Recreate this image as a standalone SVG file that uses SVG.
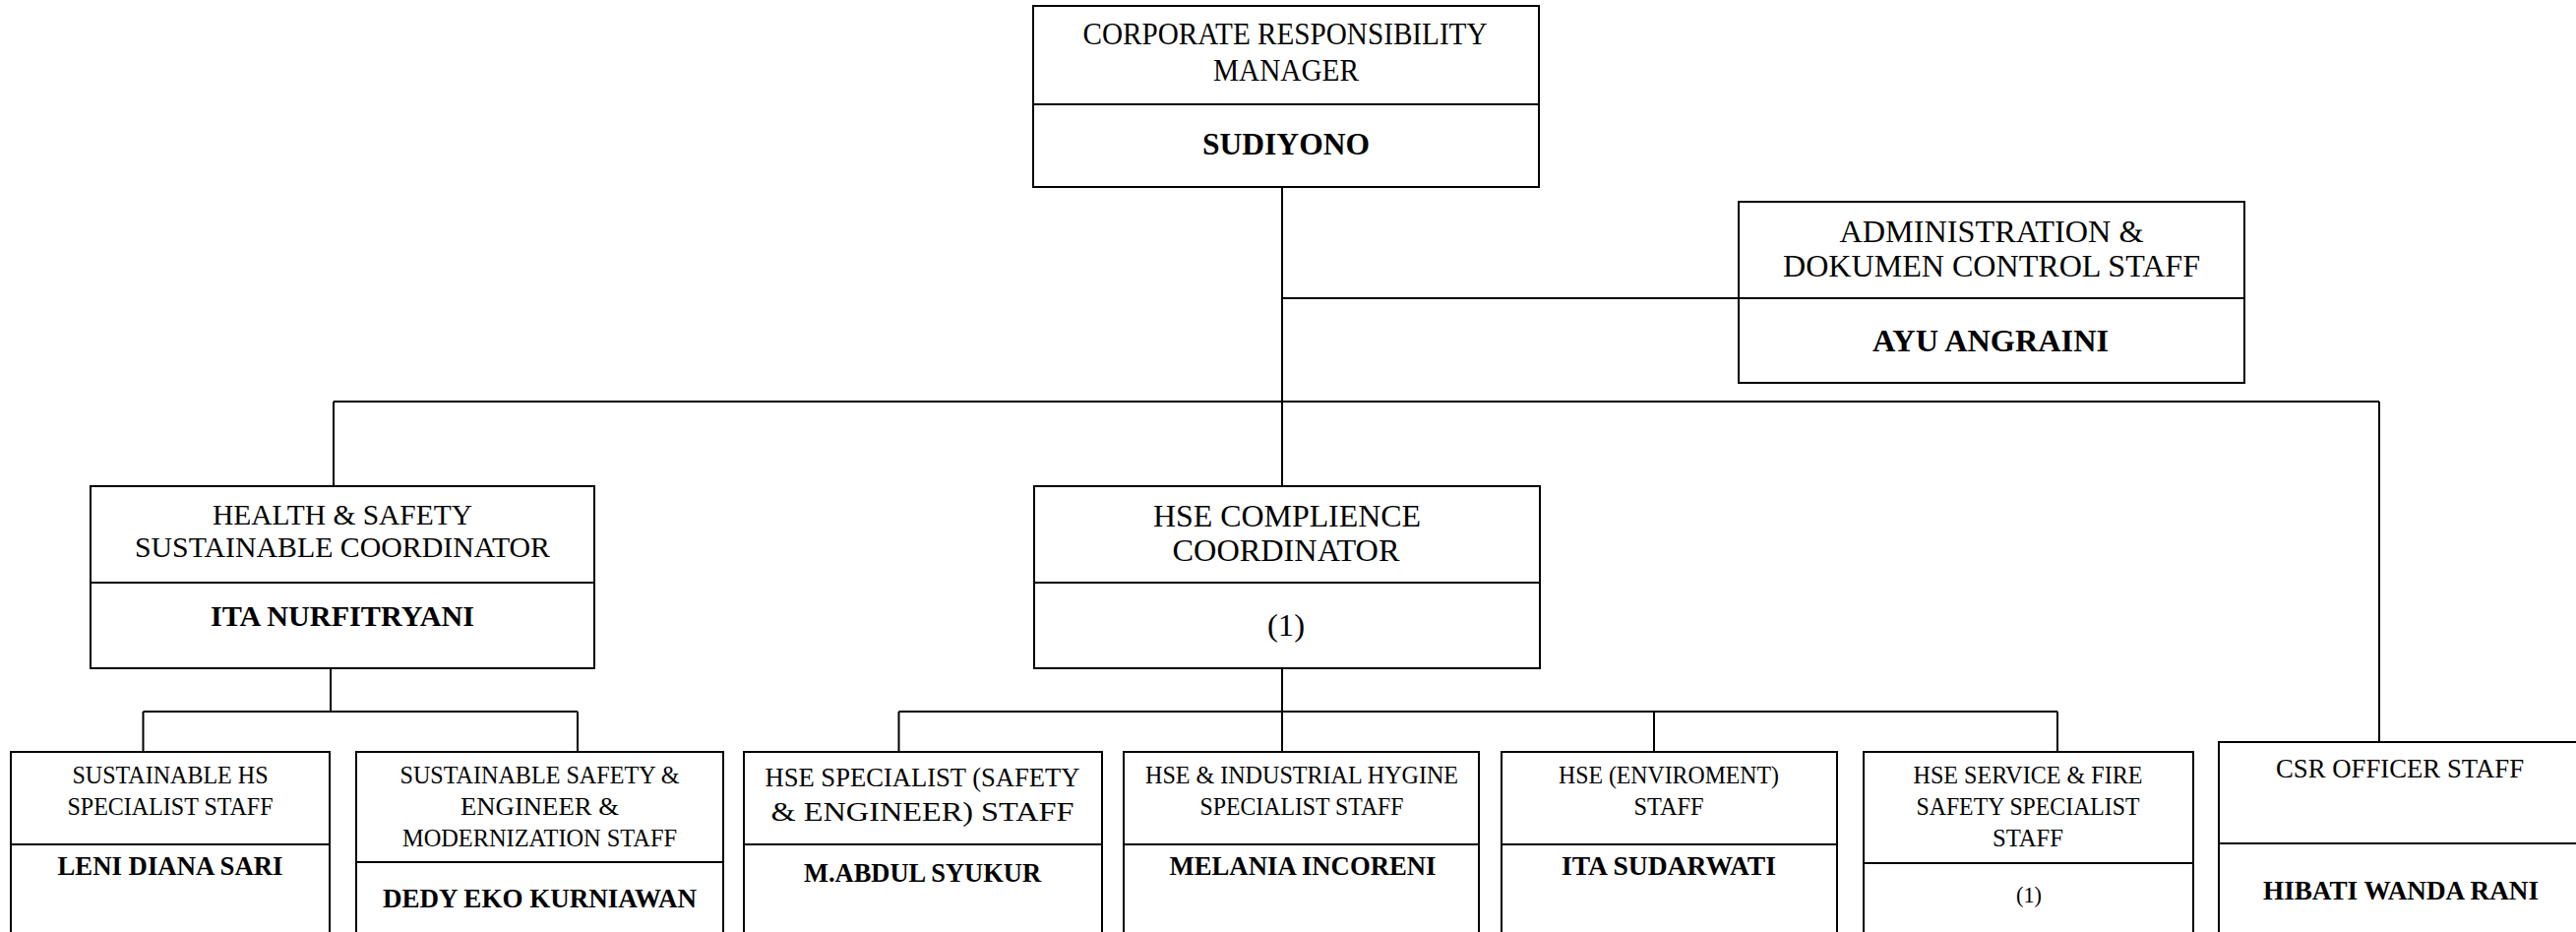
<svg xmlns="http://www.w3.org/2000/svg" width="2618" height="947" viewBox="0 0 2618 947">
<style>
.bx{fill:#fff;stroke:#000;stroke-width:2}
.dv{stroke:#000;stroke-width:2;fill:none}
.cn{stroke:#000;stroke-width:2;fill:none}
text{font-family:"Liberation Serif","Times New Roman",serif;text-anchor:middle;fill:#000}
.b{font-weight:bold}
</style>
<rect width="2618" height="947" fill="#fff"/>
<g id="connectors">
<path class="cn" d="M1303 190V494M1303 303H1767M339 408H2418M339 408V494M2418 408V754"/>
<path class="cn" d="M336 679V723M145.5 723H587M145.5 723V764M587 723V764"/>
<path class="cn" d="M1303 679V764M913.5 723H2091M913.5 723V764M1681 723V764M2091 723V764"/>
</g>
<g id="n-manager">
<rect class="bx" x="1050" y="6" width="514" height="184"/>
<path class="dv" d="M1050 106H1564"/>
<text x="1306" y="45" font-size="30.5" textLength="411" lengthAdjust="spacingAndGlyphs">CORPORATE RESPONSIBILITY</text>
<text x="1307" y="82" font-size="30.5" textLength="148" lengthAdjust="spacingAndGlyphs">MANAGER</text>
<text class="b" x="1307" y="157" font-size="32.5" textLength="170" lengthAdjust="spacingAndGlyphs">SUDIYONO</text>
</g>
<g id="n-admin">
<rect class="bx" x="1767" y="205" width="514" height="184"/>
<path class="dv" d="M1767 303H2281"/>
<text x="2024" y="246" font-size="32" textLength="309" lengthAdjust="spacingAndGlyphs">ADMINISTRATION &amp;</text>
<text x="2024" y="281" font-size="32" textLength="424" lengthAdjust="spacingAndGlyphs">DOKUMEN CONTROL STAFF</text>
<text class="b" x="2023" y="357" font-size="32" textLength="240" lengthAdjust="spacingAndGlyphs">AYU ANGRAINI</text>
</g>
<g id="n-hs-coord">
<rect class="bx" x="92" y="494" width="512" height="185"/>
<path class="dv" d="M92 592H604"/>
<text x="348" y="533" font-size="30" textLength="264" lengthAdjust="spacingAndGlyphs">HEALTH &amp; SAFETY</text>
<text x="348" y="566" font-size="30" textLength="422" lengthAdjust="spacingAndGlyphs">SUSTAINABLE COORDINATOR</text>
<text class="b" x="348" y="636" font-size="30" textLength="268" lengthAdjust="spacingAndGlyphs">ITA NURFITRYANI</text>
</g>
<g id="n-hse-coord">
<rect class="bx" x="1051" y="494" width="514" height="185"/>
<path class="dv" d="M1051 592H1565"/>
<text x="1308" y="535" font-size="32" textLength="272" lengthAdjust="spacingAndGlyphs">HSE COMPLIENCE</text>
<text x="1307" y="570" font-size="32" textLength="231" lengthAdjust="spacingAndGlyphs">COORDINATOR</text>
<text x="1307" y="646" font-size="32" textLength="38" lengthAdjust="spacingAndGlyphs">(1)</text>
</g>
<g id="n-sust-hs">
<rect class="bx" x="11" y="764" width="324" height="200"/>
<path class="dv" d="M11 858H335"/>
<text x="173" y="796" font-size="25.5" textLength="199" lengthAdjust="spacingAndGlyphs">SUSTAINABLE HS</text>
<text x="173" y="828" font-size="25.5" textLength="209" lengthAdjust="spacingAndGlyphs">SPECIALIST STAFF</text>
<text class="b" x="173" y="889" font-size="27.5" textLength="229" lengthAdjust="spacingAndGlyphs">LENI DIANA SARI</text>
</g>
<g id="n-sust-safety">
<rect class="bx" x="362" y="764" width="373" height="200"/>
<path class="dv" d="M362 876H735"/>
<text x="548.5" y="796" font-size="25.5" textLength="284" lengthAdjust="spacingAndGlyphs">SUSTAINABLE SAFETY &amp;</text>
<text x="548.5" y="828" font-size="25.5" textLength="161" lengthAdjust="spacingAndGlyphs">ENGINEER &amp;</text>
<text x="548.5" y="860" font-size="25.5" textLength="279" lengthAdjust="spacingAndGlyphs">MODERNIZATION STAFF</text>
<text class="b" x="548.5" y="922" font-size="27.5" textLength="319" lengthAdjust="spacingAndGlyphs">DEDY EKO KURNIAWAN</text>
</g>
<g id="n-hse-spec">
<rect class="bx" x="756" y="764" width="364" height="200"/>
<path class="dv" d="M756 858H1120"/>
<text x="937.5" y="799" font-size="27.5" textLength="320" lengthAdjust="spacingAndGlyphs">HSE SPECIALIST (SAFETY</text>
<text x="937.5" y="834" font-size="27.5" textLength="308" lengthAdjust="spacingAndGlyphs">&amp; ENGINEER) STAFF</text>
<text class="b" x="937.5" y="896" font-size="27.5" textLength="241" lengthAdjust="spacingAndGlyphs">M.ABDUL SYUKUR</text>
</g>
<g id="n-hse-hygine">
<rect class="bx" x="1142" y="764" width="361" height="200"/>
<path class="dv" d="M1142 858H1503"/>
<text x="1323" y="796" font-size="25.5" textLength="318" lengthAdjust="spacingAndGlyphs">HSE &amp; INDUSTRIAL HYGINE</text>
<text x="1323" y="828" font-size="25.5" textLength="207" lengthAdjust="spacingAndGlyphs">SPECIALIST STAFF</text>
<text class="b" x="1324" y="889" font-size="27.5" textLength="271" lengthAdjust="spacingAndGlyphs">MELANIA INCORENI</text>
</g>
<g id="n-hse-env">
<rect class="bx" x="1526" y="764" width="341" height="200"/>
<path class="dv" d="M1526 858H1867"/>
<text x="1696" y="796" font-size="25.5" textLength="224" lengthAdjust="spacingAndGlyphs">HSE (ENVIROMENT)</text>
<text x="1696" y="828" font-size="25.5" textLength="71" lengthAdjust="spacingAndGlyphs">STAFF</text>
<text class="b" x="1696" y="889" font-size="27.5" textLength="218" lengthAdjust="spacingAndGlyphs">ITA SUDARWATI</text>
</g>
<g id="n-hse-fire">
<rect class="bx" x="1894" y="764" width="335" height="200"/>
<path class="dv" d="M1894 877H2229"/>
<text x="2061" y="796" font-size="25.5" textLength="233" lengthAdjust="spacingAndGlyphs">HSE SERVICE &amp; FIRE</text>
<text x="2061" y="828" font-size="25.5" textLength="227" lengthAdjust="spacingAndGlyphs">SAFETY SPECIALIST</text>
<text x="2061" y="860" font-size="25.5" textLength="72" lengthAdjust="spacingAndGlyphs">STAFF</text>
<text x="2062" y="917" font-size="23" textLength="26" lengthAdjust="spacingAndGlyphs">(1)</text>
</g>
<g id="n-csr">
<rect class="bx" x="2255" y="754" width="380" height="210"/>
<path class="dv" d="M2255 857H2635"/>
<text x="2439" y="790" font-size="26.5" textLength="252" lengthAdjust="spacingAndGlyphs">CSR OFFICER STAFF</text>
<text class="b" x="2440" y="914" font-size="26.5" textLength="280" lengthAdjust="spacingAndGlyphs">HIBATI WANDA RANI</text>
</g>
</svg>
